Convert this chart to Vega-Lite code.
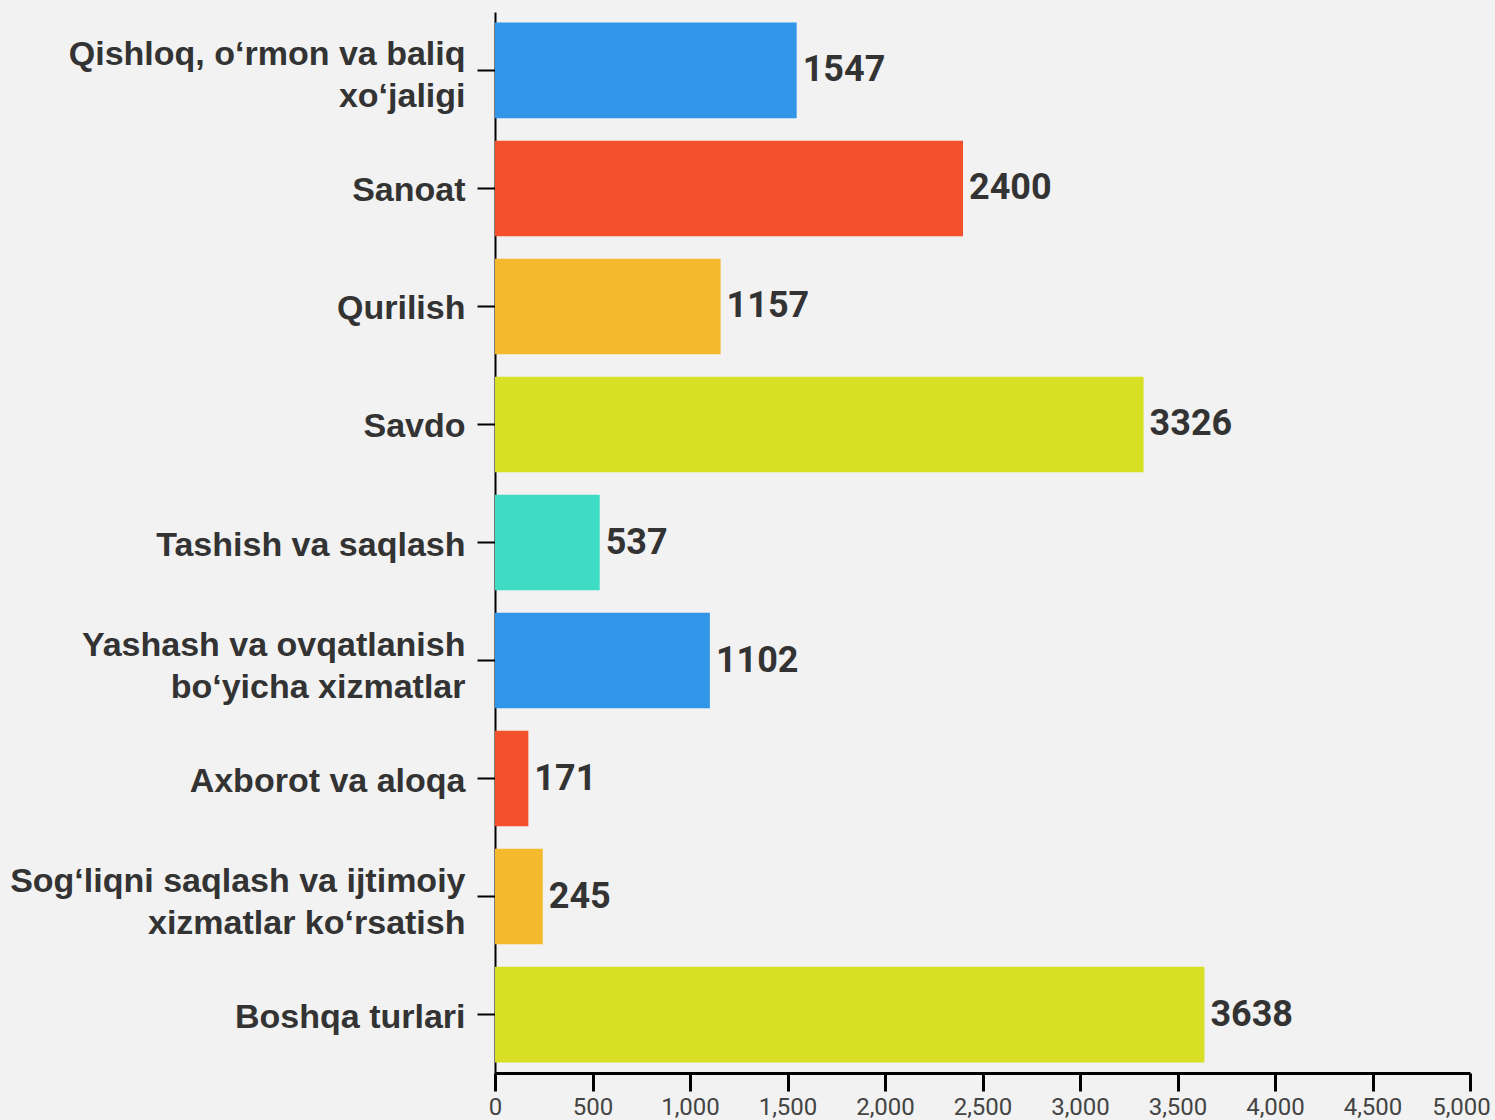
{
  "$schema": "https://vega.github.io/schema/vega-lite/v6.json",
  "autosize": "none",
  "width": 975,
  "height": 1061,
  "padding": {"left": 495, "top": 12, "right": 25, "bottom": 47},
  "background": "#f2f2f2",
  "config": {"view": {"stroke": null}},
  "data": {
    "values": [
      {"sector": "Qishloq, o‘rmon va baliq xo‘jaligi", "value": 1547},
      {"sector": "Sanoat", "value": 2400},
      {"sector": "Qurilish", "value": 1157},
      {"sector": "Savdo", "value": 3326},
      {"sector": "Tashish va saqlash", "value": 537},
      {"sector": "Yashash va ovqatlanish bo‘yicha xizmatlar", "value": 1102},
      {"sector": "Axborot va aloqa", "value": 171},
      {"sector": "Sog‘liqni saqlash va ijtimoiy xizmatlar ko‘rsatish", "value": 245},
      {"sector": "Boshqa turlari", "value": 3638}
    ]
  },
  "encoding": {
    "y": {
      "field": "sector",
      "type": "nominal",
      "sort": null,
      "title": null,
      "scale": {"paddingInner": 0.19, "paddingOuter": 0.09},
      "axis": {
        "labelFont": "Liberation Sans",
        "labelFontWeight": "bold",
        "labelFontSize": 34,
        "labelColor": "#333333",
        "labelLimit": 600,
        "labelPadding": 12,
        "labelLineHeight": 42,
        "labelOffset": {"condition": {"test": "length(datum.value) > 25", "value": -15}, "value": 3},
        "labelExpr": "datum.label == 'Qishloq, o‘rmon va baliq xo‘jaligi' ? ['Qishloq, o‘rmon va baliq', 'xo‘jaligi'] : datum.label == 'Yashash va ovqatlanish bo‘yicha xizmatlar' ? ['Yashash va ovqatlanish', 'bo‘yicha xizmatlar'] : datum.label == 'Sog‘liqni saqlash va ijtimoiy xizmatlar ko‘rsatish' ? ['Sog‘liqni saqlash va ijtimoiy', 'xizmatlar ko‘rsatish'] : datum.label",
        "tickColor": "#000000",
        "tickSize": 18,
        "tickWidth": 2,
        "domainColor": "#000000",
        "domainWidth": 2
      }
    },
    "x": {
      "field": "value",
      "type": "quantitative",
      "title": null,
      "scale": {"domain": [0, 5000], "nice": false},
      "axis": {
        "values": [0, 500, 1000, 1500, 2000, 2500, 3000, 3500, 4000, 4500, 5000],
        "format": ",d",
        "grid": false,
        "labelFont": "Roboto",
        "labelFontSize": 24,
        "labelColor": "#444444",
        "labelPadding": 4,
        "labelBound": false,
        "labelFlush": false,
        "labelOverlap": false,
        "labelOffset": {"condition": {"test": "datum.value == 5000", "value": -9}, "value": 0},
        "tickColor": "#000000",
        "tickSize": 18,
        "tickWidth": 3,
        "domainColor": "#000000",
        "domainWidth": 3
      }
    }
  },
  "layer": [
    {
      "mark": {"type": "bar"},
      "encoding": {
        "color": {
          "field": "sector",
          "type": "nominal",
          "legend": null,
          "scale": {
            "domain": [
              "Qishloq, o‘rmon va baliq xo‘jaligi",
              "Sanoat",
              "Qurilish",
              "Savdo",
              "Tashish va saqlash",
              "Yashash va ovqatlanish bo‘yicha xizmatlar",
              "Axborot va aloqa",
              "Sog‘liqni saqlash va ijtimoiy xizmatlar ko‘rsatish",
              "Boshqa turlari"
            ],
            "range": ["#3195e8", "#f4502b", "#f5b92e", "#d7e024", "#3fdcc5", "#3195e8", "#f4502b", "#f5b92e", "#d7e024"]
          }
        }
      }
    },
    {
      "mark": {
        "type": "text",
        "align": "left",
        "baseline": "middle",
        "dx": 6,
        "font": "Roboto",
        "fontWeight": "bold",
        "fontSize": 36,
        "color": "#333333"
      },
      "encoding": {
        "text": {"field": "value", "type": "quantitative", "format": "d"}
      }
    }
  ]
}
